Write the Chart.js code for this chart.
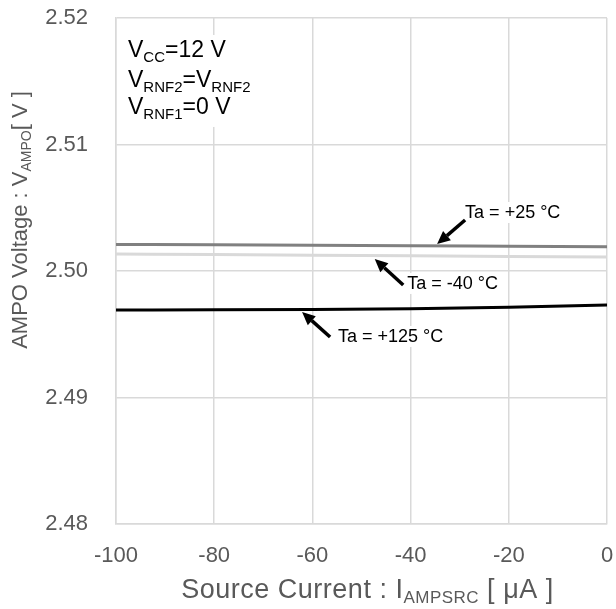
<!doctype html>
<html>

<head>
    <title>AMPO Voltage</title>
    <script src="https://cdn.jsdelivr.net/npm/chart.js"></script>
</head>

<body style="margin:0; background-color:#fff">

    <canvas id="ampo" width="616" height="609"></canvas>

    <script>

        // data
        var corrente = [-100, -80, -60, -40, -20, 0];
        var ta25 = [2.50210, 2.50207, 2.50203, 2.50200, 2.50196, 2.50192];
        var taMenos40 = [2.50134, 2.50130, 2.50125, 2.50120, 2.50115, 2.50110];
        var ta125 = [2.49692, 2.49693, 2.49696, 2.49702, 2.49713, 2.49731];

        var ticksX = [-100, -80, -60, -40, -20, 0];
        var ticksY = [2.48, 2.49, 2.50, 2.51, 2.52];

        // labels with arrows, in data units: text position, arrow tail, arrow tip
        var rotulos = [
            { texto: 'Ta = +25 °C', x: -28.9, y: 2.50419, de: [-28.9, 2.50403], ate: [-34.6, 2.50213] },
            { texto: 'Ta = -40 °C', x: -40.7, y: 2.49858, de: [-41.5, 2.49889], ate: [-47.3, 2.50095] },
            { texto: 'Ta = +125 °C', x: -54.8, y: 2.49439, de: [-56.4, 2.49478], ate: [-62.1, 2.49676] }
        ];

        // condition block (text, subscript pieces)
        var condicoes = [
            [['V', 0], ['CC', 1], ['=12 V', 0]],
            [['V', 0], ['RNF2', 1], ['=V', 0], ['RNF2', 1]],
            [['V', 0], ['RNF1', 1], ['=0 V', 0]]
        ];
        var condicoesY = [2.51692, 2.51455, 2.51241];

        var tituloX = [['Source Current : I', 0], ['AMPSRC', 1], [' [ μA ]', 0]];
        var tituloY = [['AMPO Voltage : V', 0], ['AMPO', 1], ['[ V ]', 0]];

        var fonte = '"Liberation Sans", Arial, sans-serif';

        function larguraRica(ctx, partes, tam) {
            var w = 0;
            partes.forEach(function (p) {
                ctx.font = (p[1] ? Math.round(tam * 0.64) : tam) + 'px ' + fonte;
                w += ctx.measureText(p[0]).width;
            });
            return w;
        }

        function textoRico(ctx, partes, x, y, tam, cor) {
            ctx.fillStyle = cor;
            ctx.textBaseline = 'alphabetic';
            ctx.textAlign = 'left';
            partes.forEach(function (p) {
                var t = p[1] ? Math.round(tam * 0.64) : tam;
                ctx.font = t + 'px ' + fonte;
                ctx.fillText(p[0], x, y + (p[1] ? tam * 0.2 : 0));
                x += ctx.measureText(p[0]).width;
            });
        }

        function seta(ctx, x1, y1, x2, y2) {
            var ang = Math.atan2(y2 - y1, x2 - x1);
            var tam = 13;
            var bx = x2 - tam * Math.cos(ang);
            var by = y2 - tam * Math.sin(ang);
            ctx.strokeStyle = '#000';
            ctx.lineWidth = 3.5;
            ctx.beginPath();
            ctx.moveTo(x1, y1);
            ctx.lineTo(bx, by);
            ctx.stroke();
            ctx.fillStyle = '#000';
            ctx.beginPath();
            ctx.moveTo(x2, y2);
            ctx.lineTo(bx + 6 * Math.sin(ang), by - 6 * Math.cos(ang));
            ctx.lineTo(bx - 6 * Math.sin(ang), by + 6 * Math.cos(ang));
            ctx.closePath();
            ctx.fill();
        }

        var anotacoes = {
            id: 'anotacoes',
            beforeDatasetsDraw: function (chart) {
                var ctx = chart.ctx;
                var sx = chart.scales.x, sy = chart.scales.y;
                ctx.save();
                // white boxes behind texts
                ctx.fillStyle = '#fff';
                var cx = sx.getPixelForValue(-97.55);
                ctx.fillRect(cx - 4, sy.getPixelForValue(condicoesY[0]) - 22, 138, 92);
                rotulos.forEach(function (r) {
                    ctx.font = '18px ' + fonte;
                    var w = ctx.measureText(r.texto).width;
                    ctx.fillRect(sx.getPixelForValue(r.x) - 3, sy.getPixelForValue(r.y) - 16, w + 6, 21);
                });
                ctx.restore();
            },
            afterDatasetsDraw: function (chart) {
                var ctx = chart.ctx;
                var sx = chart.scales.x, sy = chart.scales.y;
                ctx.save();

                var cx = sx.getPixelForValue(-97.55);
                condicoes.forEach(function (linha, i) {
                    textoRico(ctx, linha, cx, sy.getPixelForValue(condicoesY[i]), 23, '#000');
                });

                rotulos.forEach(function (r) {
                    ctx.font = '18px ' + fonte;
                    ctx.fillStyle = '#000';
                    ctx.textAlign = 'left';
                    ctx.textBaseline = 'alphabetic';
                    ctx.fillText(r.texto, sx.getPixelForValue(r.x), sy.getPixelForValue(r.y));
                    seta(ctx, sx.getPixelForValue(r.de[0]), sy.getPixelForValue(r.de[1]),
                        sx.getPixelForValue(r.ate[0]), sy.getPixelForValue(r.ate[1]));
                });

                // axis titles
                var area = chart.chartArea;
                ctx.letterSpacing = '0.5px';
                var wx = larguraRica(ctx, tituloX, 27);
                textoRico(ctx, tituloX, (area.left + area.right) / 2 - wx / 2 + 6, 598, 27, '#595959');
                ctx.letterSpacing = '0px';

                var wy = larguraRica(ctx, tituloY, 22);
                ctx.translate(27, 220);
                ctx.rotate(-Math.PI / 2);
                textoRico(ctx, tituloY, -wy / 2, 0, 22, '#595959');

                ctx.restore();
            }
        };

        function serie(rotulo, valores, cor) {
            return {
                label: rotulo,
                data: corrente.map(function (c, i) { return { x: c, y: valores[i] }; }),
                borderColor: cor,
                backgroundColor: cor,
                borderWidth: 3,
                pointRadius: 0,
                cubicInterpolationMode: 'monotone',
                fill: false
            };
        }

        var grafico = new Chart(document.getElementById('ampo').getContext('2d'), {
            type: 'line',
            data: {
                datasets: [
                    serie('Ta = -40 °C', taMenos40, '#d9d9d9'),
                    serie('Ta = +25 °C', ta25, '#808080'),
                    serie('Ta = +125 °C', ta125, '#000000')
                ]
            },
            options: {
                responsive: false,
                animation: false,
                layout: { padding: { top: 18, right: 9, left: 0, bottom: 0 } },
                plugins: {
                    legend: { display: false },
                    tooltip: { enabled: false }
                },
                scales: {
                    x: {
                        type: 'linear',
                        min: -100,
                        max: 0,
                        afterBuildTicks: function (s) { s.ticks = ticksX.map(function (v) { return { value: v }; }); },
                        afterFit: function (s) {
                            s.height = 85;
                            s.paddingLeft = 0;
                            s.paddingRight = 0;
                        },
                        grid: { color: '#d9d9d9', lineWidth: 1.5, drawTicks: false },
                        border: { color: '#d9d9d9', width: 1.5 },
                        ticks: {
                            color: '#595959',
                            padding: 19,
                            maxRotation: 0,
                            autoSkip: false,
                            font: { family: fonte, size: 22 }
                        }
                    },
                    y: {
                        min: 2.48,
                        max: 2.52,
                        afterBuildTicks: function (s) { s.ticks = ticksY.map(function (v) { return { value: v }; }); },
                        afterFit: function (s) {
                            s.width = 116;
                            s.paddingTop = 0;
                            s.paddingBottom = 0;
                        },
                        grid: { color: '#d9d9d9', lineWidth: 1.5, drawTicks: false },
                        border: { color: '#d9d9d9', width: 1.5 },
                        ticks: {
                            color: '#595959',
                            padding: 28,
                            autoSkip: false,
                            font: { family: fonte, size: 22 },
                            callback: function (v) { return v.toFixed(2); }
                        }
                    }
                }
            },
            plugins: [anotacoes]
        });

    </script>
</body>

</html>
